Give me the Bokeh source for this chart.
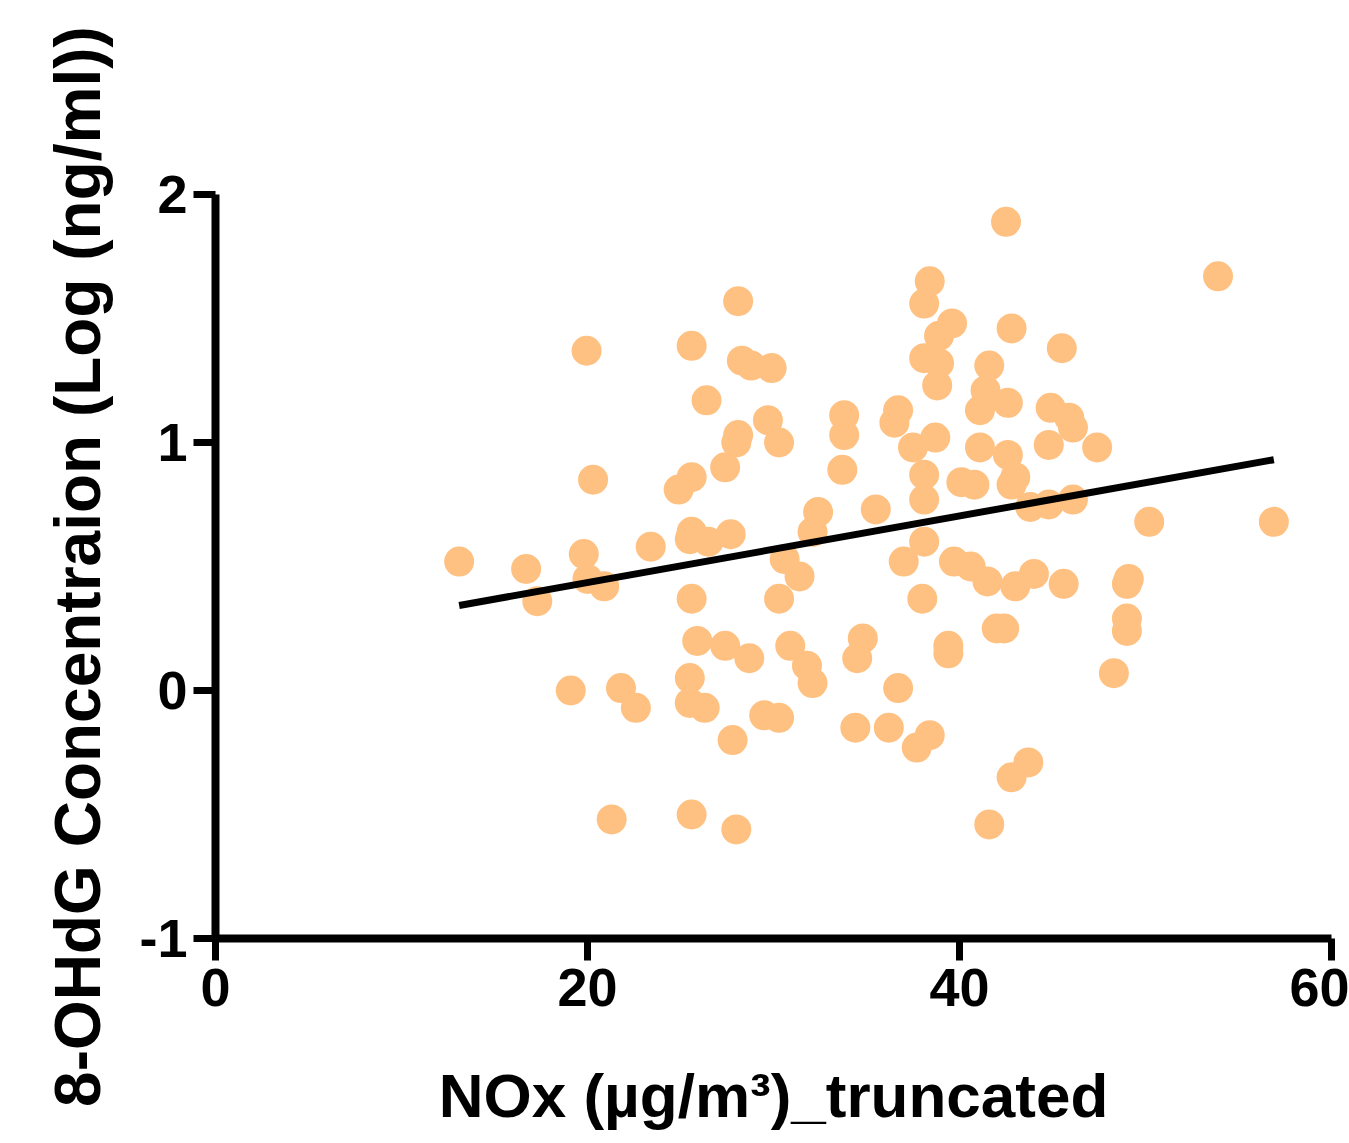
from bokeh.plotting import figure
from bokeh.models import Range1d, FixedTicker, ColumnDataSource
from bokeh.embed import file_html
from bokeh.resources import INLINE

# NOx (ug/m3) truncated
nox = [13.1, 16.7, 17.3, 19.8, 20.0, 20.9, 19.95, 20.3, 19.1, 21.8, 22.6, 21.3,
       23.4, 24.9, 25.6, 25.6, 25.6, 25.5, 26.5, 27.7, 25.6, 25.9, 27.4, 28.7,
       25.5, 25.5, 26.3, 27.8, 25.6, 28.0, 26.4, 27.4, 28.1, 28.1, 28.0, 28.3,
       28.8, 29.9, 29.7, 30.3, 29.5, 30.3, 30.3, 30.6, 31.4, 30.9, 31.8, 32.1,
       32.1, 32.4, 33.8, 33.8, 33.7, 34.4, 34.5, 34.8, 35.5, 36.2, 36.7, 36.7,
       36.5, 37.0, 37.5, 37.7, 38.0, 38.1, 38.1, 38.1, 38.4, 38.1, 38.1, 38.9,
       39.6, 38.9, 38.8, 38.7, 38.4, 39.4, 39.4, 39.7, 40.1, 40.8, 40.6, 41.1,
       41.1, 41.4, 41.6, 41.5, 42.0, 42.4, 41.6, 42.5, 42.6, 42.6, 42.8, 43.0,
       43.0, 42.8, 42.8, 43.7, 44.0, 43.8, 44.8, 44.8, 44.9, 45.5, 45.6, 45.9,
       46.1, 46.1, 47.4, 48.3, 49.0, 49.0, 49.0, 49.1, 50.2, 53.9, 56.9]

# 8-OHdG concentration, log (ng/ml)
ohdg = [0.52, 0.49, 0.36, 0.55, 0.45, 0.42, 1.37, 0.85, 0.00, 0.01, -0.07, -0.52,
        0.58, 0.81, 0.86, 1.39, 0.64, 0.61, 0.60, 0.63, 0.37, 0.20, 0.18, 0.13,
        0.05, -0.05, -0.07, -0.20, -0.50, -0.56, 1.17, 0.90, 1.57, 1.03, 1.00, 1.33,
        1.31, 1.30, 1.09, 1.00, -0.10, -0.11, 0.37, 0.53, 0.46, 0.18, 0.10, 0.03,
        0.64, 0.72, 1.11, 1.03, 0.89, -0.15, 0.13, 0.21, 0.73, -0.15, 0.01, 1.13,
        1.08, 0.52, 0.98, -0.23, 0.37, 0.87, 0.77, 0.60, 1.65, 1.56, 1.34, 1.43,
        1.48, 1.32, 1.23, 1.02, -0.18, 0.18, 0.15, 0.52, 0.84, 0.83, 0.50, 0.98,
        1.13, 1.21, 1.31, 0.44, 0.25, 0.25, -0.54, 1.89, 1.16, 0.95, 0.83, 0.86,
        0.42, -0.35, 1.46, -0.29, 0.47, 0.74, 0.75, 0.99, 1.14, 1.38, 0.43, 1.10,
        1.06, 0.77, 0.98, 0.07, 0.24, 0.29, 0.43, 0.45, 0.68, 1.67, 0.68]

# linear fit
fit_slope = 0.01342
fit_intercept = 0.167

x_ticks = [0, 20, 40, 60]
y_ticks = [-1, 0, 1, 2]
y_tick_labels = {-1: "-1", 0: "0", 1: "1", 2: "2"}

p = figure(width=1349, height=1143, output_backend="svg", toolbar_location=None,
           x_range=Range1d(0, 60), y_range=Range1d(-1, 2),
           min_border_left=215, min_border_right=18, min_border_top=194,
           min_border_bottom=205)
p.outline_line_color = None
p.xgrid.visible = False
p.ygrid.visible = False
p.background_fill_color = "white"
p.border_fill_color = "white"

src = ColumnDataSource(dict(x=nox, y=ohdg))
p.scatter("x", "y", source=src, size=30, fill_color="#FFC182", line_color=None)

fx = [min(nox), max(nox)]
fy = [fit_intercept + fit_slope * v for v in fx]
p.line(fx, fy, line_color="black", line_width=7)

for ax in (p.xaxis[0], p.yaxis[0]):
    ax.axis_line_width = 8
    ax.axis_line_color = "black"
    ax.major_tick_line_width = 7
    ax.major_tick_line_color = "black"
    ax.major_tick_out = 22
    ax.major_tick_in = 0
    ax.minor_tick_line_color = None
    ax.axis_label_text_font = "Liberation Sans"
    ax.axis_label_text_font_style = "bold"
    ax.axis_label_text_color = "black"
    ax.major_label_text_color = "black"
    ax.major_label_text_font_style = "bold"
    ax.major_label_text_font = "Liberation Sans"
    ax.major_label_text_font_size = "54px"

p.xaxis.ticker = FixedTicker(ticks=x_ticks)
p.yaxis.ticker = FixedTicker(ticks=y_ticks)
p.yaxis.major_label_overrides = y_tick_labels

p.xaxis.axis_label = "NOx (\u00b5g/m\u00b3)_truncated"
p.xaxis.axis_label_text_font_size = "62px"
p.xaxis.axis_label_standoff = 52
p.xaxis.major_label_standoff = 8

p.yaxis.axis_label = "8-OHdG Concentraion (Log (ng/ml))"
p.yaxis.axis_label_text_font_size = "64px"
p.yaxis.axis_label_standoff = 22
p.yaxis.major_label_standoff = 6

open("out.html", "w").write(file_html(p, INLINE))
